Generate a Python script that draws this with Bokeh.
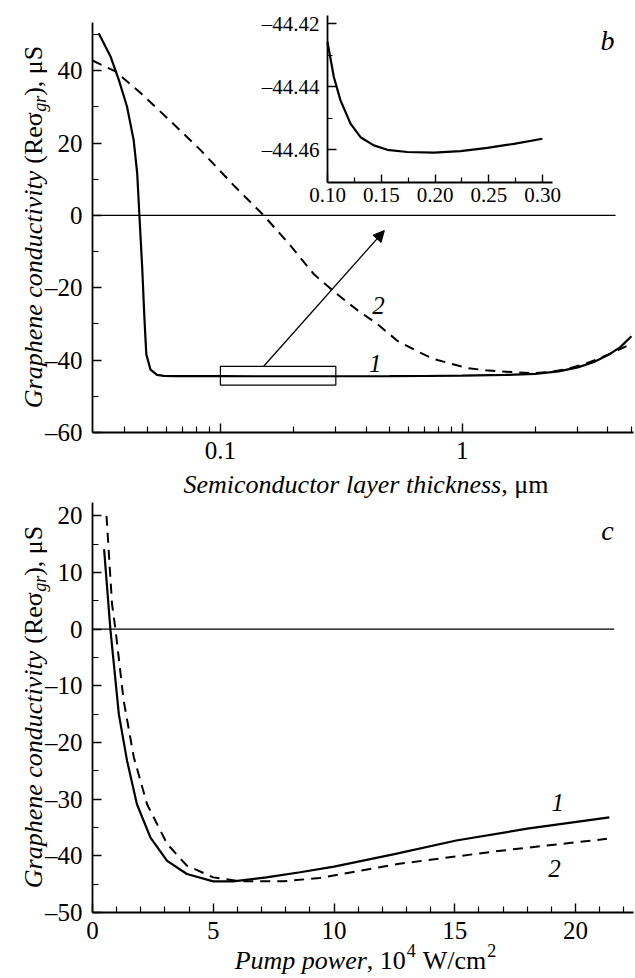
import math
from bokeh.plotting import figure
from bokeh.models import (Range1d, FixedTicker, CustomJSTickFormatter, Label, LinearAxis,
                          Arrow, NormalHead, LinearScale)
from bokeh.layouts import column
from bokeh.embed import file_html
from bokeh.resources import INLINE

# ---------------- panel b: conductivity vs semiconductor layer thickness ----------------
thick_1 = [0.0314, 0.0351, 0.0380, 0.0411, 0.0438, 0.0453, 0.0463, 0.0475, 0.0485, 0.0494,
           0.0514, 0.0547, 0.0583, 0.065, 0.08, 0.1, 0.15, 0.2, 0.3, 0.5, 0.7, 1.0, 1.5,
           2.0, 2.5, 3.0, 3.5, 4.0, 4.5, 5.0]
cond_1 = [50.3, 44.0, 37.5, 30.1, 20.8, 11.6, -0.5, -14.4, -28.2, -38.4,
          -42.6, -44.1, -44.35, -44.40, -44.42, -44.43, -44.46, -44.46, -44.46, -44.42, -44.38, -44.3, -44.1,
          -43.8, -43.1, -42.0, -40.5, -38.6, -36.4, -33.4]
thick_2 = [0.0296, 0.0368, 0.0468, 0.0603, 0.0826, 0.1135, 0.151, 0.1945, 0.243, 0.30, 0.37,
           0.445, 0.54, 0.65, 0.76, 0.9, 1.05, 1.25, 1.44, 1.7, 1.97, 2.3, 2.72, 3.2, 3.72, 4.3, 4.94]
cond_2 = [42.8, 39.8, 33.8, 26.9, 18.1, 8.3, 0.0, -8.3, -16.2, -21.5, -26.3,
          -30.0, -34.7, -37.5, -39.7, -41.0, -42.2, -42.8, -43.1, -43.4, -43.6, -43.3, -42.4, -41.1, -39.4, -37.6, -35.6]
b_xlim = [0.0296, 5.1]
b_ylim = [-60, 53.3]
b_xticks = [0.1, 1]
b_xminor = [0.04, 0.05, 0.06, 0.07, 0.08, 0.09, 0.2, 0.3, 0.4, 0.5, 0.6, 0.7, 0.8, 0.9, 2, 3, 4, 5]
b_yticks = [-60, -40, -20, 0, 20, 40]
b_yminor = [-50, -30, -10, 10, 30, 50]
b_zero_x = [0.0296, 4.3]
box_x = [0.1, 0.3]
box_y = [-46.9, -41.7]
arrow_from = [0.151, -41.7]
arrow_to = [0.476, -4.2]

# inset (zoom of curve 1)
inset_thick = [0.100, 0.1059, 0.1121, 0.1214, 0.1307, 0.1431, 0.1556, 0.1742, 0.199,
               0.2238, 0.2487, 0.2735, 0.2999]
inset_cond = [-44.4258, -44.4369, -44.4443, -44.4517, -44.4560, -44.4586, -44.4600, -44.4607,
              -44.4609, -44.4604, -44.4594, -44.4581, -44.4565]
inset_xlim = [0.10, 0.309]
inset_ylim = [-44.4704, -44.4174]
inset_xticks = [0.10, 0.15, 0.20, 0.25, 0.30]
inset_xminor = [0.125, 0.175, 0.225, 0.275]
inset_yticks = [-44.42, -44.44, -44.46]
inset_yminor = [-44.43, -44.45]

# ---------------- panel c: conductivity vs pump power ----------------
power_1 = [0.48, 0.74, 1.09, 1.43, 1.84, 2.4, 3.09, 3.91, 5.0, 5.83, 7.2, 8.6, 10.0, 12.5, 15.06, 18.0, 21.4]
cond_c1 = [14.1, 0.0, -15.0, -23.2, -30.9, -36.8, -40.9, -43.2, -44.5, -44.5, -43.8, -42.9, -41.9,
           -39.7, -37.3, -35.2, -33.2]
power_2 = [0.58, 0.81, 0.95, 1.29, 1.71, 2.26, 3.09, 3.9, 5.0, 6.1, 7.9, 9.4, 12.7, 16.9, 21.3]
cond_c2 = [20.0, 4.4, 0.0, -12.6, -22.6, -30.9, -37.9, -41.7, -43.8, -44.5, -44.5, -43.9, -41.4, -39.1, -37.0]
c_xlim = [0, 22.4]
c_ylim = [-50, 22.35]
c_xticks = [0, 5, 10, 15, 20]
c_xminor = [1, 2, 3, 4, 6, 7, 8, 9, 11, 12, 13, 14, 16, 17, 18, 19, 21, 22]
c_yticks = [-50, -40, -30, -20, -10, 0, 10, 20]
c_yminor = [-45, -35, -25, -15, -5, 5, 15]
c_zero_x = [0, 21.6]

# ---------------- layout (pixels) ----------------
FONT = "Liberation Serif"
W = 634
H_B, H_C = 500, 477
AX_L, AX_R = 92, 633           # axis extent, x pixels
B_T, B_B = 22, 432             # panel b axis extent, y pixels
C_T, C_B = 2, 412              # panel c axis extent, y pixels (within its canvas)
INSET_X0, INSET_PX_PER_005 = 327, 53.75
INSET_Y_4442, INSET_PX_PER_002 = 23.3, 63.0

ROMAN_W = {" ": .25, "(": .333, ")": .333, "R": .667, "e": .444, "\u03c3": .55, ",": .25,
           "\u03bc": .5, "S": .556, "m": .778, "W": .944, "/": .278, "c": .444,
           "0": .5, "1": .5, "2": .5, "4": .5}
ITAL_W = {"G": .722, "r": .389, "a": .5, "p": .5, "h": .5, "e": .444, "n": .5, "c": .444,
          "o": .5, "d": .5, "u": .5, "t": .278, "i": .278, "v": .444, "y": .444, "g": .5,
          "S": .5, "m": .722, "l": .278, "k": .444, "s": .389, "P": .611, "w": .667, " ": .25}


def tw(s, size, italic):
    t = ITAL_W if italic else ROMAN_W
    return size * sum(t.get(ch, 0.5) for ch in s)


def ext_x(v0, v1, log=False):
    f = math.log10 if log else (lambda v: v)
    a, b = f(v0), f(v1)
    k = (b - a) / (AX_R - AX_L)
    s, e = a - AX_L * k, a + (W - AX_L) * k
    return (10 ** s, 10 ** e) if log else (s, e)


def ext_y(v_bot, v_top, p_top, p_bot, H):
    k = (v_top - v_bot) / (p_bot - p_top)
    return v_bot - (H - p_bot) * k, v_top + p_top * k


def neg_fmt(decimals=None):
    body = "Math.abs(tick).toString()" if decimals is None else "Math.abs(tick).toFixed(%d)" % decimals
    return CustomJSTickFormatter(code="return (tick < 0 ? '\\u2013' : '') + %s;" % body)


def style_axis(ax, size, tick_in, minor_in, lw):
    ax.axis_line_width = lw
    ax.axis_line_color = "black"
    ax.major_tick_line_width = 1.4
    ax.minor_tick_line_width = 1.2
    ax.major_tick_line_color = "black"
    ax.minor_tick_line_color = "black"
    ax.major_tick_in = tick_in
    ax.major_tick_out = 0
    ax.minor_tick_in = minor_in
    ax.minor_tick_out = 0
    ax.major_label_text_font = FONT
    ax.major_label_text_font_size = size
    ax.major_label_text_color = "black"


def make_fig(H, xlim, ylim, xtype, p_top, p_bot, xt, xm, yt, ym):
    xr = ext_x(xlim[0], xlim[1], log=(xtype == "log"))
    yr = ext_y(ylim[0], ylim[1], p_top, p_bot, H)
    p = figure(width=W, height=H, x_range=Range1d(*xr), y_range=Range1d(*yr),
               x_axis_type=xtype, output_backend="svg", toolbar_location=None, min_border=0)
    p.grid.visible = False
    p.outline_line_color = None
    p.background_fill_color = "white"
    p.border_fill_color = "white"
    p.xaxis.fixed_location = ylim[0]
    p.xaxis.bounds = (xlim[0], xlim[1])
    p.yaxis.fixed_location = xlim[0]
    p.yaxis.bounds = (ylim[0], ylim[1])
    p.xaxis.ticker = FixedTicker(ticks=xt, minor_ticks=xm)
    p.yaxis.ticker = FixedTicker(ticks=yt, minor_ticks=ym)
    style_axis(p.xaxis[0], "25px", 9, 6, 1.8)
    style_axis(p.yaxis[0], "25px", 9, 6, 1.8)
    p.xaxis.major_label_standoff = 9
    p.yaxis.major_label_standoff = 10
    return p


def piece_label(p, x, y, xo, yo, s, sz, it, angle=0.0):
    p.add_layout(Label(x=x, y=y, x_offset=xo, y_offset=yo, text=s, angle=angle, text_font=FONT,
                       text_font_style="italic" if it else "normal",
                       text_font_size="%dpx" % sz, text_align="left",
                       text_baseline="alphabetic", text_color="black"))


def ylabel(p, xlim, ylim, pieces, base_x, center_up):
    # pieces: (text, size, italic, baseline shift, gap before in px)
    total = sum(tw(s, sz, it) + g for s, sz, it, sh, g in pieces)
    pos = center_up - total / 2
    for s, sz, it, sh, g in pieces:
        pos += g
        piece_label(p, xlim[0], ylim[0], base_x + sh, pos, s, sz, it, math.pi / 2)
        pos += tw(s, sz, it)


def xlabel(p, xlim, ylim, pieces, center_right, base_down):
    total = sum(tw(s, sz, it) + g for s, sz, it, sh, g in pieces)
    pos = center_right - total / 2
    for s, sz, it, sh, g in pieces:
        pos += g
        piece_label(p, xlim[0], ylim[0], pos, -base_down + sh, s, sz, it)
        pos += tw(s, sz, it)


def ylab_pieces():
    return [("Graphene conductivity", 26, True, 0, 0), ("(Re\u03c3", 26, False, 0, 7),
            ("gr", 18, True, 6, 0), ("), \u03bcS", 26, False, 0, 0)]


def black_label(p, x, y, txt, size, xo=0, yo=0):
    p.add_layout(Label(x=x, y=y, x_offset=xo, y_offset=yo, text=txt, text_font=FONT,
                       text_font_style="italic", text_font_size=size, text_color="black",
                       text_align="center", text_baseline="middle"))


# ---------------- figure b ----------------
pb = make_fig(H_B, b_xlim, b_ylim, "log", B_T, B_B, b_xticks, b_xminor, b_yticks, b_yminor)
pb.xaxis.formatter = CustomJSTickFormatter(code="return String(tick);")
pb.yaxis.formatter = neg_fmt()

pb.line(b_zero_x, [0, 0], line_color="black", line_width=1.2)
pb.line(thick_2, cond_2, line_color="black", line_width=2, line_dash="10 7")
pb.line(thick_1, cond_1, line_color="black", line_width=2.2)
pb.quad(left=[box_x[0]], right=[box_x[1]], bottom=[box_y[0]], top=[box_y[1]],
        fill_alpha=0, line_color="black", line_width=1.2)
pb.add_layout(Arrow(end=NormalHead(size=11, fill_color="black", line_color="black", line_width=1),
                    x_start=arrow_from[0], y_start=arrow_from[1], x_end=arrow_to[0], y_end=arrow_to[1],
                    line_color="black", line_width=1.3))

# inset through extra ranges + real axes at fixed locations
kx = 0.05 / INSET_PX_PER_005
ky = 0.02 / INSET_PX_PER_002
ix0 = inset_xlim[0] - INSET_X0 * kx
iy1 = inset_yticks[0] + INSET_Y_4442 * ky
pb.extra_x_ranges = {"ix": Range1d(ix0, ix0 + W * kx)}
pb.extra_y_ranges = {"iy": Range1d(iy1 - H_B * ky, iy1)}
pb.extra_x_scales = {"ix": LinearScale()}
pb.extra_y_scales = {"iy": LinearScale()}
iy_ax = LinearAxis(x_range_name="ix", y_range_name="iy", fixed_location=inset_xlim[0],
                   bounds=(inset_ylim[0], inset_ylim[1]),
                   ticker=FixedTicker(ticks=inset_yticks, minor_ticks=inset_yminor),
                   formatter=neg_fmt(2))
ix_ax = LinearAxis(x_range_name="ix", y_range_name="iy", fixed_location=inset_ylim[0],
                   bounds=(inset_xlim[0], inset_xlim[1]),
                   ticker=FixedTicker(ticks=inset_xticks, minor_ticks=inset_xminor),
                   formatter=CustomJSTickFormatter(code="return tick.toFixed(2);"))
style_axis(iy_ax, "21px", 9, 5, 1.8)
style_axis(ix_ax, "21px", 8, 5, 1.8)
iy_ax.major_label_standoff = 8
ix_ax.major_label_standoff = 5
pb.add_layout(iy_ax, "left")
pb.add_layout(ix_ax, "below")
pb.line(inset_thick, inset_cond, x_range_name="ix", y_range_name="iy", line_color="black", line_width=2.2)

black_label(pb, 0.437, -40.8, "1", "25px")
black_label(pb, 0.45, -25.0, "2", "25px")
black_label(pb, b_xlim[1], b_ylim[1], "b", "28px", -26, -18)

ylabel(pb, b_xlim, b_ylim, ylab_pieces(), -59, 205)
xlabel(pb, b_xlim, b_ylim, [("Semiconductor layer thickness", 26, True, 0, 0),
                            (", \u03bcm", 26, False, 0, 0)], 273, 52)

# ---------------- figure c ----------------
pc = make_fig(H_C, c_xlim, c_ylim, "linear", C_T, C_B, c_xticks, c_xminor, c_yticks, c_yminor)
pc.xaxis.formatter = CustomJSTickFormatter(code="return String(tick);")
pc.yaxis.formatter = neg_fmt()

pc.line(c_zero_x, [0, 0], line_color="black", line_width=1.2)
pc.line(power_2, cond_c2, line_color="black", line_width=2, line_dash="10 7")
pc.line(power_1, cond_c1, line_color="black", line_width=2.2)

black_label(pc, 19.26, -30.6, "1", "25px")
black_label(pc, 19.13, -42.3, "2", "25px")
black_label(pc, c_xlim[1], c_ylim[1], "c", "28px", -26, -28)

ylabel(pc, c_xlim, c_ylim, ylab_pieces(), -59, 205)
xlabel(pc, c_xlim, c_ylim, [("Pump power", 26, True, 0, 0), (", 10", 26, False, 0, 0),
                            ("4", 18, False, 10, 1), ("W/cm", 26, False, 0, 7),
                            ("2", 18, False, 10, 1)], 273, 48)

layout = column(pb, pc, spacing=0)
open("out.html", "w", encoding="utf-8").write(file_html(layout, INLINE))
